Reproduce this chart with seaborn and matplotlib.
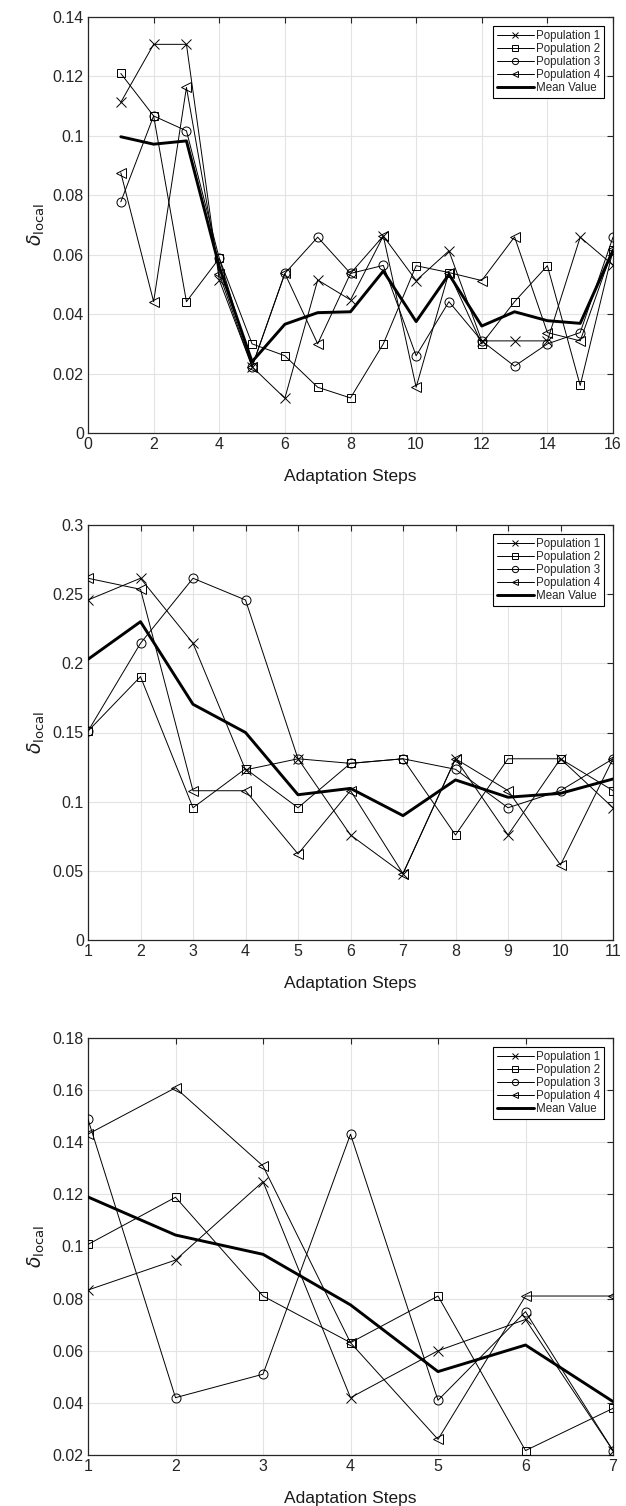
import numpy as np
import pandas as pd
import seaborn as sns
import matplotlib
matplotlib.use('Agg')
import matplotlib.pyplot as plt

steps_a = list(range(1, 17))
pop1_a = [0.1113, 0.1308, 0.1308, 0.0515, 0.0223, 0.0117, 0.0515, 0.0448,
          0.0663, 0.0513, 0.0613, 0.031, 0.031, 0.031, 0.0659, 0.0565]
pop2_a = [0.121, 0.1067, 0.0442, 0.0588, 0.030, 0.026, 0.0154, 0.0118,
          0.030, 0.0563, 0.054, 0.030, 0.0442, 0.0563, 0.016, 0.0615]
pop3_a = [0.0778, 0.1067, 0.1017, 0.0588, 0.0223, 0.0537, 0.0659, 0.0537,
          0.0564, 0.026, 0.0442, 0.031, 0.0225, 0.030, 0.0338, 0.0659]
pop4_a = [0.0876, 0.0442, 0.1163, 0.0535, 0.0223, 0.0537, 0.030, 0.0537,
          0.0663, 0.0154, 0.054, 0.0513, 0.066, 0.0338, 0.031, 0.062]
mean_a = [0.0997, 0.0972, 0.0983, 0.056, 0.024, 0.0366, 0.0405, 0.0408,
          0.0545, 0.0375, 0.0534, 0.036, 0.0408, 0.0378, 0.0369, 0.0615]

steps_b = list(range(1, 12))
pop1_b = [0.2458, 0.2615, 0.2145, 0.123, 0.131, 0.0759, 0.048, 0.131, 0.0759, 0.131, 0.0956]
pop2_b = [0.151, 0.1904, 0.0956, 0.1238, 0.0956, 0.1277, 0.131, 0.0759, 0.131, 0.131, 0.108]
pop3_b = [0.151, 0.2145, 0.2615, 0.2458, 0.131, 0.1277, 0.131, 0.1234, 0.0956, 0.108, 0.131]
pop4_b = [0.2615, 0.2535, 0.1079, 0.1079, 0.0622, 0.108, 0.048, 0.131, 0.108, 0.0542, 0.131]
mean_b = [0.2029, 0.2301, 0.1704, 0.150, 0.105, 0.1096, 0.0899, 0.1157, 0.1032, 0.106, 0.1164]

steps_c = list(range(1, 8))
pop1_c = [0.0833, 0.0948, 0.1249, 0.042, 0.060, 0.072, 0.0217]
pop2_c = [0.1008, 0.1189, 0.081, 0.0631, 0.081, 0.0217, 0.0379]
pop3_c = [0.1488, 0.042, 0.051, 0.1431, 0.041, 0.075, 0.0217]
pop4_c = [0.1431, 0.1609, 0.1309, 0.0631, 0.026, 0.081, 0.081]
mean_c = [0.119, 0.1044, 0.097, 0.0776, 0.052, 0.0622, 0.0405]

SERIES_NAMES = ['Population 1', 'Population 2', 'Population 3', 'Population 4', 'Mean Value']
MARKERS = {'Population 1': 'x', 'Population 2': 's', 'Population 3': 'o',
           'Population 4': '<', 'Mean Value': None}
MARKER_SIZES = {'Population 1': 6.5, 'Population 2': 5.5, 'Population 3': 6.5,
                'Population 4': 6.5}

# 坐标轴设置
X_TICKS_A = list(range(0, 17, 2))
Y_TICKS_A = [0, 0.02, 0.04, 0.06, 0.08, 0.1, 0.12, 0.14]
X_TICKS_B = list(range(1, 12))
Y_TICKS_B = [0, 0.05, 0.1, 0.15, 0.2, 0.25, 0.3]
X_TICKS_C = list(range(1, 8))
Y_TICKS_C = [0.02, 0.04, 0.06, 0.08, 0.1, 0.12, 0.14, 0.16, 0.18]


def make_frame(steps, series):
    rows = []
    for name, vals in zip(SERIES_NAMES, series):
        for s, v in zip(steps, vals):
            rows.append({'step': s, 'value': v, 'series': name})
    return pd.DataFrame(rows)


def draw_panel(ax, steps, series, xticks, yticks, xlim, ylim):
    df = make_frame(steps, series)
    for name in SERIES_NAMES:
        sub = df[df['series'] == name]
        if name == 'Mean Value':
            sns.lineplot(data=sub, x='step', y='value', ax=ax, color='black',
                         linewidth=2.1, label=name, zorder=4)
        else:
            sns.lineplot(data=sub, x='step', y='value', ax=ax, color='black',
                         linewidth=0.7, marker=MARKERS[name], markersize=MARKER_SIZES[name],
                         markerfacecolor='none', markeredgecolor='black',
                         markeredgewidth=0.7, label=name, zorder=3)
    ax.set_xlim(*xlim)
    ax.set_ylim(*ylim)
    ax.set_xticks(xticks)
    ax.set_yticks(yticks)
    ax.set_xticklabels([f"{v:g}" for v in xticks])
    ax.set_yticklabels([f"{v:g}" for v in yticks])
    ax.grid(True, color='#e3e3e3', linewidth=0.8)
    ax.set_axisbelow(True)
    ax.tick_params(direction='in', top=True, right=True, length=4,
                   width=0.8, colors='#262626', labelsize=11.5, pad=3)
    for sp in ax.spines.values():
        sp.set_color('#262626')
        sp.set_linewidth(0.9)
        sp.set_visible(True)
    ax.set_xlabel('Adaptation Steps', fontsize=12.5, color='#1a1a1a', labelpad=12)
    ax.set_ylabel(r'$\delta_{\mathrm{local}}$', fontsize=13.5, color='#1a1a1a', labelpad=4)
    leg = ax.legend(loc='upper right', fontsize=8.3, frameon=True, fancybox=False,
                    edgecolor='black', framealpha=1, borderpad=0.3, labelspacing=0.1,
                    handlelength=3.2, handletextpad=0.2, borderaxespad=0.8)
    leg.get_frame().set_linewidth(0.8)
    for h in leg.legend_handles:
        h.set_markersize(4.5)


def main():
    sns.set_style('white')
    plt.rcParams['font.family'] = ['Liberation Sans', 'DejaVu Sans']
    plt.rcParams['mathtext.fontset'] = 'dejavusans'

    fig = plt.figure(figsize=(6.26, 15.06), dpi=100)
    left, width = 88 / 626, 525 / 626
    ax1 = fig.add_axes([left, 1 - 433 / 1506, width, 416 / 1506])
    ax2 = fig.add_axes([left, 1 - 940 / 1506, width, 415 / 1506])
    ax3 = fig.add_axes([left, 1 - 1455 / 1506, width, 417 / 1506])

    draw_panel(ax1, steps_a, [pop1_a, pop2_a, pop3_a, pop4_a, mean_a],
               X_TICKS_A, Y_TICKS_A, (0, 16), (0, 0.14))
    draw_panel(ax2, steps_b, [pop1_b, pop2_b, pop3_b, pop4_b, mean_b],
               X_TICKS_B, Y_TICKS_B, (1, 11), (0, 0.3))
    draw_panel(ax3, steps_c, [pop1_c, pop2_c, pop3_c, pop4_c, mean_c],
               X_TICKS_C, Y_TICKS_C, (1, 7), (0.02, 0.18))

    fig.savefig('out.png', dpi=100)


if __name__ == "__main__":
    main()
